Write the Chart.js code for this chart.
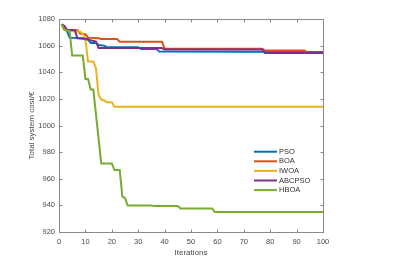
<!DOCTYPE html>
<html>
<head>
<meta charset="utf-8">
<script src="https://cdn.jsdelivr.net/npm/chart.js@4.4.0/dist/chart.umd.min.js"></script>
<style>
  html, body { margin: 0; padding: 0; background: #fff; }
  #wrap { width: 396px; height: 271px; }
</style>
</head>
<body>
<div id="wrap"><canvas id="costChart" width="396" height="271"></canvas></div>
<script>
// Series names and colours (MATLAB default order)
const seriesNames = ["PSO", "BOA", "IWOA", "ABCPSO", "HBOA"];
const seriesColors = ["#0072BD", "#D95319", "#EDB120", "#7E2F8E", "#77AC30"];

// Curve breakpoints: iteration / cost
const psoIter = [1, 2, 3, 4, 9, 10, 11, 12, 14, 15, 17, 18, 30, 31, 37, 38, 100];
const psoCost = [1076, 1073, 1071, 1066, 1065.5, 1064.5, 1064.5, 1062, 1062, 1060.5, 1060, 1059, 1058.7, 1057.5, 1057.5, 1055.5, 1055.3];

const boaIter = [1, 2, 7, 8, 10, 11, 15, 16, 22, 23, 39, 40, 77, 78, 93, 94, 100];
const boaCost = [1076, 1072, 1071.5, 1069, 1068.5, 1066, 1065.5, 1065, 1065, 1063, 1063, 1057.7, 1057.7, 1056.3, 1056.3, 1054.8, 1054.8];

const iwoaIter = [1, 2, 4, 8, 9, 10, 11, 13, 14, 15, 16, 17, 18, 20, 21, 100];
const iwoaCost = [1076, 1072.5, 1071, 1070.5, 1069, 1065, 1048, 1048, 1043, 1023, 1019.5, 1019, 1017.5, 1017.5, 1014, 1014];

const abcIter = [1, 2, 3, 6, 7, 11, 12, 14, 15, 39, 40, 77, 78, 100];
const abcCost = [1076, 1075, 1072, 1071.5, 1065.5, 1065, 1064, 1063, 1058.3, 1058.2, 1057, 1057, 1054.5, 1054.5];

const hboaIter = [1, 2, 4, 5, 9, 10, 11, 12, 13, 16, 20, 21, 23, 24, 25, 26, 35, 36, 45, 46, 58, 59, 100];
const hboaCost = [1076, 1072, 1071, 1052.5, 1052.5, 1035, 1035, 1027, 1027, 971.5, 971.5, 966.5, 966.5, 946.5, 945.5, 940, 940, 939.5, 939.5, 937.7, 937.7, 935, 935];

// Axis ticks
const xTicks = [0, 10, 20, 30, 40, 50, 60, 70, 80, 90, 100];
const yTicks = [920, 940, 960, 980, 1000, 1020, 1040, 1060, 1080];

const allIter = [psoIter, boaIter, iwoaIter, abcIter, hboaIter];
const allCost = [psoCost, boaCost, iwoaCost, abcCost, hboaCost];

const axisColor = "#8a8a8a";
const textColor = "#4a4a4a";
const fontFamily = "'Liberation Sans', Arial, Helvetica, sans-serif";

let datasets = seriesNames.map((name, k) => ({
  label: name,
  data: allIter[k].map((it, j) => ({ x: it, y: allCost[k][j] })),
  borderColor: seriesColors[k],
  backgroundColor: seriesColors[k],
  borderWidth: 2,
  pointRadius: 0,
  tension: 0,
  fill: false,
  order: seriesNames.length - k // later series on top, like MATLAB
}));

// Box, inward tick marks and legend
const matlabBox = {
  id: "matlabBox",
  afterDraw(chart) {
    const { ctx, chartArea: a, scales } = chart;
    const L = Math.round(a.left) + 0.5, R = Math.round(a.right) + 0.5;
    const T = Math.round(a.top) + 0.5, B = Math.round(a.bottom) + 0.5;
    ctx.save();
    ctx.strokeStyle = axisColor;
    ctx.lineWidth = 1;
    ctx.strokeRect(L, T, R - L, B - T);
    ctx.beginPath();
    xTicks.forEach(v => {
      let px = Math.round(scales.x.getPixelForValue(v)) + 0.5;
      ctx.moveTo(px, B); ctx.lineTo(px, B - 3);
      ctx.moveTo(px, T); ctx.lineTo(px, T + 3);
    });
    yTicks.forEach(v => {
      let py = Math.round(scales.y.getPixelForValue(v)) + 0.5;
      ctx.moveTo(L, py); ctx.lineTo(L + 3, py);
      ctx.moveTo(R, py); ctx.lineTo(R - 3, py);
    });
    ctx.stroke();

    // legend inside the axes
    let lx = 254, ly = 151.7, step = 9.6;
    ctx.font = "7.5px " + fontFamily;
    ctx.textBaseline = "middle";
    ctx.textAlign = "left";
    seriesNames.forEach((name, k) => {
      let y = ly + k * step;
      ctx.strokeStyle = seriesColors[k];
      ctx.lineWidth = 2;
      ctx.beginPath();
      ctx.moveTo(lx, y); ctx.lineTo(lx + 23, y);
      ctx.stroke();
      ctx.fillStyle = "#333";
      ctx.fillText(name, lx + 25, y);
    });
    ctx.restore();
  }
};

let ctx = document.getElementById("costChart").getContext("2d");
window.costChart = new Chart(ctx, {
  type: "line",
  data: { datasets: datasets },
  options: {
    responsive: false,
    animation: false,
    layout: { padding: { left: 0, top: 19, right: 73, bottom: 0 } },
    plugins: { legend: { display: false }, tooltip: { enabled: false } },
    scales: {
      x: {
        type: "linear",
        min: 0,
        max: 100,
        afterBuildTicks: s => { s.ticks = xTicks.map(v => ({ value: v })); },
        afterFit: s => { s.height = 39; },
        grid: { display: false, drawTicks: false },
        border: { display: false },
        ticks: {
          padding: 5, color: textColor, font: { family: fontFamily, size: 7.5 }, maxRotation: 0,
          callback: v => String(v)
        },
        title: {
          display: true, text: "Iterations", color: textColor,
          font: { family: fontFamily, size: 8 },
          padding: { top: 0, bottom: 13.5 }
        }
      },
      y: {
        min: 920,
        max: 1080,
        afterBuildTicks: s => { s.ticks = yTicks.map(v => ({ value: v })); },
        afterFit: s => { s.width = 59; },
        grid: { display: false, drawTicks: false },
        border: { display: false },
        ticks: {
          padding: 4, color: textColor, font: { family: fontFamily, size: 7.5 },
          callback: v => String(v)
        },
        title: {
          display: true, text: "Total system cost/€", color: textColor,
          font: { family: fontFamily, size: 8 },
          padding: { top: 26.7, bottom: 0 }
        }
      }
    }
  },
  plugins: [matlabBox]
});
</script>
</body>
</html>
